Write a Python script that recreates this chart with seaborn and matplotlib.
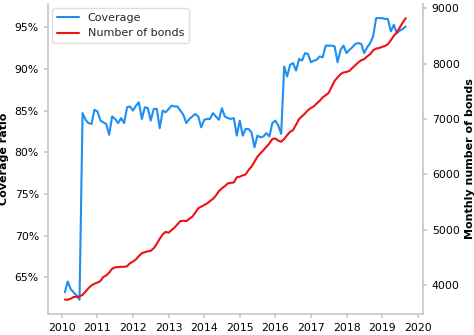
import numpy as np
import pandas as pd
import matplotlib
matplotlib.use("Agg")
import matplotlib.pyplot as plt
import matplotlib.dates as mdates
from matplotlib.ticker import FuncFormatter
import seaborn as sns

# Monthly observations, Feb 2010 - Sep 2019
months = pd.date_range("2010-02-01", "2019-09-01", freq="MS")

coverage = [
    # 2010 (Feb-Dec)
    63.2, 64.5, 63.6, 63.2, 62.8, 62.3, 84.7, 83.9, 83.5, 83.4, 85.1,
    # 2011
    84.9, 83.8, 83.6, 83.4, 82.1, 84.3, 84.0, 83.5, 84.1, 83.5, 85.4, 85.5,
    # 2012
    85.0, 85.6, 86.0, 84.0, 85.4, 85.3, 83.8, 85.2, 85.2, 82.9, 85.0, 84.8,
    # 2013
    85.2, 85.6, 85.5, 85.5, 85.0, 84.5, 83.5, 84.0, 84.3, 84.6, 84.3, 83.0,
    # 2014
    83.9, 84.0, 84.0, 84.7, 84.3, 83.9, 85.3, 84.3, 84.1, 84.0, 84.1, 82.0,
    # 2015
    83.8, 82.0, 82.8, 82.8, 82.4, 80.6, 82.0, 81.8, 81.9, 82.3, 81.9, 83.5,
    # 2016
    83.8, 83.2, 82.2, 90.3, 89.1, 90.5, 90.7, 89.8, 91.2, 91.0, 91.9, 91.8,
    # 2017
    90.8, 91.0, 91.1, 91.5, 91.4, 92.8, 92.8, 92.8, 92.7, 90.8, 92.3, 92.8,
    # 2018
    91.9, 92.3, 92.6, 93.0, 93.1, 93.0, 91.9, 92.6, 93.1, 93.9, 96.1, 96.1,
    # 2019 (Jan-Sep)
    96.1, 96.0, 96.0, 94.5, 95.3, 94.3, 94.6, 94.8, 95.1,
]

n_bonds = [
    # 2010 (Feb-Dec)
    3745, 3740, 3760, 3790, 3795, 3800, 3830, 3890, 3950, 4000, 4030,
    # 2011
    4050, 4080, 4150, 4180, 4230, 4300, 4325, 4330, 4335, 4335, 4345, 4400,
    # 2012
    4430, 4470, 4530, 4580, 4600, 4615, 4625, 4670, 4750, 4840, 4920, 4965,
    # 2013
    4950, 5000, 5040, 5100, 5160, 5165, 5160, 5200, 5240, 5310, 5390, 5420,
    # 2014
    5450, 5480, 5520, 5560, 5620, 5700, 5750, 5790, 5840, 5850, 5855, 5950,
    # 2015
    5960, 5985, 6000, 6080, 6140, 6230, 6320, 6380, 6440, 6500, 6560, 6640,
    # 2016
    6650, 6610, 6590, 6640, 6710, 6770, 6800, 6900, 7000, 7050, 7100, 7160,
    # 2017
    7200, 7230, 7280, 7330, 7390, 7430, 7470, 7580, 7690, 7750, 7810, 7840,
    # 2018
    7850, 7870, 7920, 7970, 8020, 8060, 8080, 8130, 8170, 8240, 8270, 8280,
    # 2019 (Jan-Sep)
    8300, 8320, 8350, 8420, 8500, 8560, 8650, 8740, 8820,
]

df = pd.DataFrame({"month": months, "coverage": coverage, "bonds": n_bonds})

sns.set_theme(style="ticks")
plt.rcParams["font.family"] = ["DejaVu Sans"]
spine_grey = "#c8c8c8"
plt.rcParams.update({
    "axes.edgecolor": spine_grey,
    "xtick.color": spine_grey,
    "ytick.color": spine_grey,
    "xtick.labelcolor": "black",
    "ytick.labelcolor": "black",
    "xtick.major.size": 3,
    "ytick.major.size": 3,
    "xtick.labelsize": 7.8,
    "ytick.labelsize": 7.8,
})

fig = plt.figure(figsize=(4.74, 3.35), dpi=100)
ax = fig.add_axes([0.101, 0.063, 0.791, 0.925])
ax2 = ax.twinx()

sns.lineplot(data=df, x="month", y="coverage", ax=ax, color="#1e8ff0",
             linewidth=1.5, label="Coverage", legend=False)
sns.lineplot(data=df, x="month", y="bonds", ax=ax2, color="#ee1111",
             linewidth=1.5, label="Number of bonds", legend=False)

ax.yaxis.set_major_formatter(FuncFormatter(lambda v, p: f"{v:.0f}%"))
ax.set_yticks([65, 70, 75, 80, 85, 90, 95])
ax2.set_yticks([4000, 5000, 6000, 7000, 8000, 9000])

ax.xaxis.set_major_locator(mdates.YearLocator())
ax.xaxis.set_major_formatter(mdates.DateFormatter("%Y"))

ax.set_xlabel("")
ax.set_ylabel("Coverage ratio", fontsize=8, fontweight="bold", color="black")
ax2.set_ylabel("Monthly number of bonds", fontsize=8, fontweight="bold",
               color="black")

for a in (ax, ax2):
    a.spines["top"].set_visible(False)
ax2.spines["left"].set_visible(False)
ax.spines["right"].set_visible(False)
ax2.spines["bottom"].set_visible(False)

h1, l1 = ax.get_legend_handles_labels()
h2, l2 = ax2.get_legend_handles_labels()
leg = ax.legend(h1 + h2, l1 + l2, loc="upper left", fontsize=8,
                frameon=True, fancybox=True, borderaxespad=0.4)
leg.get_frame().set_edgecolor("#d8d8d8")

fig.savefig("out.png", dpi=100)
